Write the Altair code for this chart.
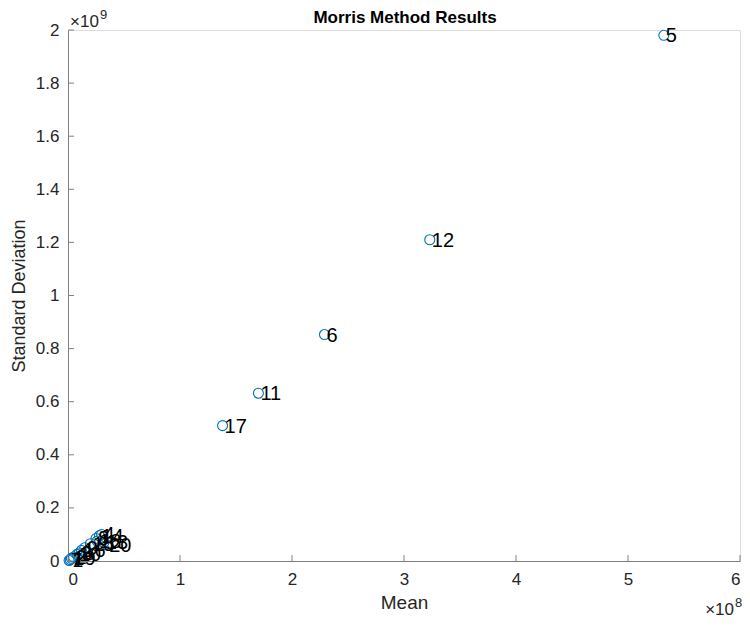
import altair as alt
import pandas as pd

# Morris method results: parameter index, mean (mu*) and standard deviation (sigma)
labels = ["5", "12", "6", "11", "17",
          "1", "2", "3", "4", "7", "8", "9", "10", "13", "14", "15", "16", "18", "19", "20"]
means = [5.32e8, 3.23e8, 2.29e8, 1.70e8, 1.38e8,
         0.2e7, 0.5e7, 1.0e7, 3.0e7, 0.1e7, 2.5e7, 1.5e7, 0.8e7, 3.2e7, 2.8e7, 2.0e7, 1.2e7, 2.6e7, 0.3e7, 3.5e7]
stds = [1.98e9, 1.21e9, 0.853e9, 0.632e9, 0.510e9,
        0.5e7, 1.5e7, 3.0e7, 10.0e7, 0.2e7, 8.5e7, 5.0e7, 2.5e7, 7.0e7, 9.5e7, 6.5e7, 4.0e7, 7.5e7, 1.0e7, 6.0e7]

x_ticks = [0, 1e8, 2e8, 3e8, 4e8, 5e8, 6e8]
y_ticks = [0, 0.2e9, 0.4e9, 0.6e9, 0.8e9, 1.0e9, 1.2e9, 1.4e9, 1.6e9, 1.8e9, 2.0e9]

df = pd.DataFrame({"label": labels, "mean": means, "std": stds})
dfx = pd.DataFrame({"v": x_ticks})
dfy = pd.DataFrame({"v": y_ticks})

W, H = 672, 531
FONT = "Liberation Sans"
AX = "#808080"
TXT = "#262626"

xs = alt.Scale(domain=[0, 6e8], nice=False, zero=False)
ys = alt.Scale(domain=[0, 2e9], nice=False, zero=False)

base = alt.Chart(df)

points = base.mark_point(shape="circle", filled=False, size=100, strokeWidth=1.1,
                         color="#0072BD", opacity=1).encode(
    x=alt.X("mean:Q", scale=xs, title="Mean",
            axis=alt.Axis(values=x_ticks, labelExpr="format(datum.value/1e8, 'd')",
                          tickSize=0, grid=False, domainColor=AX, labelColor=TXT,
                          labelFontSize=17, labelFont=FONT, labelPadding=10,
                          titleFont=FONT, titleFontSize=19, titleFontWeight="normal",
                          titleColor=TXT, titlePadding=6)),
    y=alt.Y("std:Q", scale=ys, title="Standard Deviation",
            axis=alt.Axis(values=y_ticks, labelExpr="format(datum.value/1e9, '.1~f')",
                          tickSize=0, grid=False, domainColor=AX, labelColor=TXT,
                          labelFontSize=17, labelFont=FONT, labelPadding=9,
                          titleFont=FONT, titleFontSize=18, titleFontWeight="normal",
                          titleColor=TXT, titlePadding=7)),
)

texts = base.mark_text(align="left", baseline="middle", dx=2, dy=1, fontSize=20,
                       font=FONT, color="black").encode(
    x=alt.X("mean:Q", scale=xs),
    y=alt.Y("std:Q", scale=ys),
    text="label:N",
)

tk = 6
xt_bottom = alt.Chart(dfx).mark_rule(color=AX).encode(
    x=alt.X("v:Q", scale=xs), y=alt.value(H), y2=alt.value(H - tk))
yt_left = alt.Chart(dfy).mark_rule(color=AX).encode(
    y=alt.Y("v:Q", scale=ys), x=alt.value(0), x2=alt.value(tk))

title = alt.Chart(pd.DataFrame({"t": ["Morris Method Results"]})).mark_text(
    align="center", baseline="middle", fontSize=17, fontWeight="bold", font=FONT,
    color="black").encode(x=alt.value(W / 2 + 1), y=alt.value(-12), text="t:N")

exp_y1 = alt.Chart(pd.DataFrame({"t": ["×10"]})).mark_text(
    align="left", baseline="middle", fontSize=17, font=FONT, color=TXT).encode(
    x=alt.value(2), y=alt.value(-8), text="t:N")
exp_y2 = alt.Chart(pd.DataFrame({"t": ["9"]})).mark_text(
    align="left", baseline="middle", fontSize=13, font=FONT, color=TXT).encode(
    x=alt.value(32), y=alt.value(-15), text="t:N")
exp_x1 = alt.Chart(pd.DataFrame({"t": ["×10"]})).mark_text(
    align="right", baseline="middle", fontSize=17, font=FONT, color=TXT).encode(
    x=alt.value(W - 6), y=alt.value(H + 49), text="t:N")
exp_x2 = alt.Chart(pd.DataFrame({"t": ["8"]})).mark_text(
    align="left", baseline="middle", fontSize=13, font=FONT, color=TXT).encode(
    x=alt.value(W - 5), y=alt.value(H + 42), text="t:N")

chart = alt.layer(points, texts, xt_bottom, yt_left, title,
                  exp_y1, exp_y2, exp_x1, exp_x2).properties(
    width=W, height=H,
    autosize=alt.AutoSizeParams(type="none"),
    padding={"left": 60, "top": 22, "right": 2, "bottom": 59},
).configure_view(stroke=None).configure(background="white")

chart.save("out.html", embed_options={"renderer": "svg", "actions": False})
